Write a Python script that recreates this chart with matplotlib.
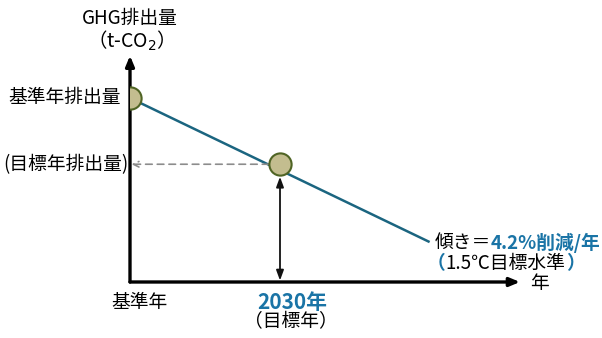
import matplotlib as m
m.use('Agg')
import matplotlib.pyplot as plt

plt.rcParams['font.family'] = ['Noto Sans CJK JP', 'DejaVu Sans']

# conceptual positions: base year = 0, 2030 = 1, end of trend line = 2
years = [0.0, 1.0, 1.99]
emissions = [100.0, 64.0, 22.0]   # % of base-year emissions
x_axis_end = 2.6
y_axis_end = 123.0

line_col = '#1b6580'
blue = '#1a74a6'
dot_fill = '#c3bd8f'
dot_edge = '#4f6424'

fig = plt.figure(figsize=(6.02, 3.38), dpi=100)
ax = fig.add_axes([130 / 602, 56 / 338, 472 / 602, 282 / 338])
ax.set_xlim(0, 472 / 150)
ax.set_ylim(0, 282 / 1.84)
ax.axis('off')

# axes arrows
ax.annotate('', xy=(x_axis_end, 0), xytext=(0, 0),
            arrowprops=dict(arrowstyle='-|>,head_length=0.6,head_width=0.25', color='black', lw=2.4, shrinkA=0, shrinkB=0),
            annotation_clip=False)
ax.annotate('', xy=(0, y_axis_end), xytext=(0, 0),
            arrowprops=dict(arrowstyle='-|>,head_length=0.6,head_width=0.25', color='black', lw=2.4, shrinkA=0, shrinkB=0),
            annotation_clip=False)

# trend line
ax.plot([years[0], years[2]], [emissions[0], emissions[2]], color=line_col, lw=1.8, zorder=3)

# dashed guide to y-axis
ax.annotate('', xy=(0.01, emissions[1]), xytext=(years[1], emissions[1]),
            arrowprops=dict(arrowstyle='->,head_length=0.4,head_width=0.2', color='#8c8c8c', lw=1.2,
                            linestyle=(0, (4, 3)), shrinkA=8, shrinkB=0))
# vertical double arrow from target to x-axis
ax.annotate('', xy=(years[1], 0.8), xytext=(years[1], emissions[1]),
            arrowprops=dict(arrowstyle='<|-|>,head_length=0.6,head_width=0.22', color='#111111', lw=1.3,
                            shrinkA=9, shrinkB=0))

# points
ax.plot(years[:2], emissions[:2], 'o', ms=16, mfc=dot_fill, mec=dot_edge, mew=1.5, zorder=5)

fs = 13.5
ax.text(0, 143, 'GHG排出量', ha='center', va='center', fontsize=13.5, clip_on=False)
ax.text(-0.03, 131, '（t-CO$_2$）', ha='center', va='center', fontsize=14, clip_on=False)
ax.text(-0.06, emissions[0], '基準年排出量', ha='right', va='center', fontsize=fs, clip_on=False)
ax.text(-0.01, emissions[1], '(目標年排出量)', ha='right', va='center', fontsize=fs, clip_on=False)
ax.text(0.06, -11, '基準年', ha='center', va='center', fontsize=fs, clip_on=False)
ax.text(years[1] + 0.08, -11, '2030年', ha='center', va='center', fontsize=15, fontweight='bold', color=blue, clip_on=False)
ax.text(years[1] + 0.07, -21.5, '（目標年）', ha='center', va='center', fontsize=fs, clip_on=False)
ax.text(x_axis_end + 0.13, -1, '年', ha='center', va='center', fontsize=fs, clip_on=False)

t1 = ax.text(years[2] + 0.04, emissions[2] - 0.5, '傾き＝', ha='left', va='center', fontsize=fs)
ax.annotate('4.2%削減/年', xy=(1, 0.5), xycoords=t1, va='center', ha='left',
            fontsize=fs, fontweight='bold', color=blue)
p1 = ax.text(years[2] - 0.01, emissions[2] - 12, '（', ha='left', va='center', fontsize=fs, color=blue, fontweight='bold')
p2 = ax.annotate('1.5℃目標水準', xy=(1, 0.5), xycoords=p1, va='center', ha='left', fontsize=fs)
ax.annotate('）', xy=(1, 0.5), xycoords=p2, va='center', ha='left', fontsize=fs, color=blue, fontweight='bold')

plt.savefig('out.png', dpi=100)
